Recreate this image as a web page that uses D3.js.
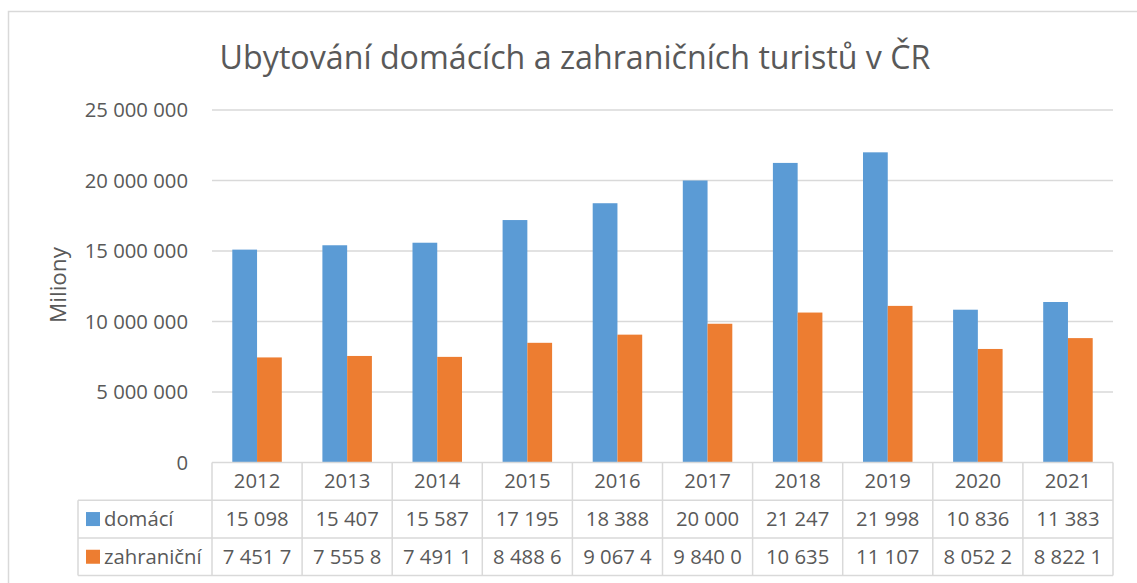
<!DOCTYPE html>
<meta charset="utf-8">
<title>Ubytování domácích a zahraničních turistů v ČR</title>
<script src="https://d3js.org/d3.v7.min.js"></script>
<body style="margin:0; background:#fff;">
<div id="chart"></div>
</body>
<script>
const years = ["2012", "2013", "2014", "2015", "2016", "2017", "2018", "2019", "2020", "2021"];
const domaci = [15098000, 15407000, 15587000, 17195000, 18388000, 20000000, 21247000, 21998000, 10836000, 11383000];
const zahranicni = [7451700, 7555800, 7491100, 8488600, 9067400, 9840000, 10635000, 11107000, 8052200, 8822100];
// table text as it appears (clipped) in the source chart
const domaciText = ["15 098", "15 407", "15 587", "17 195", "18 388", "20 000", "21 247", "21 998", "10 836", "11 383"];
const zahranicniText = ["7 451 7", "7 555 8", "7 491 1", "8 488 6", "9 067 4", "9 840 0", "10 635", "11 107", "8 052 2", "8 822 1"];
const seriesNames = ["domácí", "zahraniční"];
const yTicks = [0, 5000000, 10000000, 15000000, 20000000, 25000000];

const colors = ["#5B9BD5", "#ED7D31"];
const textColor = "#595959";
const lineColor = "#D9D9D9";
const font = "'Open Sans', sans-serif";
const fs = 20.3;

const width = 1137, height = 583;
const plot = {left: 212, right: 1113, top: 110, bottom: 462.5};
const rowH = 37.7;
const tableLeft = 78;

const svg = d3.select("#chart").append("svg")
    .attr("width", width).attr("height", height)
    .style("font-family", font);

// chart frame
svg.append("path")
    .attr("d", `M8.5,${height} V11.5 H${width}`)
    .attr("fill", "none").attr("stroke", lineColor).attr("stroke-width", 1.5);

svg.append("text")
    .attr("x", 575).attr("y", 69)
    .attr("text-anchor", "middle")
    .attr("font-size", 32.2)
    .attr("fill", textColor)
    .text("Ubytování domácích a zahraničních turistů v ČR");

const x = d3.scaleBand().domain(years).range([plot.left, plot.right]);
const x1 = d3.scaleBand().domain(seriesNames).range([0, x.bandwidth()]).paddingOuter(0.82).paddingInner(0);
const y = d3.scaleLinear().domain([0, 25000000]).range([plot.bottom, plot.top]);
const fmt = d => d3.format(",")(d).replace(/,/g, " ");

// grid lines
svg.append("g").selectAll("line").data(yTicks.slice(1)).join("line")
    .attr("x1", plot.left).attr("x2", plot.right)
    .attr("y1", d => y(d)).attr("y2", d => y(d))
    .attr("stroke", lineColor).attr("stroke-width", 1.5);

// y tick labels
svg.append("g").selectAll("text").data(yTicks).join("text")
    .attr("x", 188).attr("y", d => y(d)).attr("dy", "0.35em")
    .attr("text-anchor", "end")
    .attr("font-size", fs).attr("fill", textColor)
    .text(d => fmt(d));

svg.append("text")
    .attr("transform", `translate(66,${285}) rotate(-90)`)
    .attr("text-anchor", "middle")
    .attr("font-size", 22.5).attr("fill", textColor)
    .text("Miliony");

// bars
const series = [domaci, zahranicni];
const groups = svg.append("g").selectAll("g").data(years).join("g")
    .attr("transform", d => `translate(${x(d)},0)`);
groups.selectAll("rect")
    .data((d, i) => seriesNames.map((s, k) => ({s, v: series[k][i]})))
    .join("rect")
    .attr("x", d => x1(d.s)).attr("width", x1.bandwidth())
    .attr("y", d => y(d.v)).attr("height", d => y(0) - y(d.v))
    .attr("fill", (d, k) => colors[k]);

// data table
const table = svg.append("g").attr("stroke", lineColor).attr("stroke-width", 1.5).attr("fill", "none");
const tTop = plot.bottom, tBottom = plot.bottom + 3 * rowH;
[0, 1, 2, 3].forEach(r => {
  table.append("line")
      .attr("x1", r === 0 ? plot.left : tableLeft).attr("x2", plot.right)
      .attr("y1", tTop + r * rowH).attr("y2", tTop + r * rowH);
});
years.concat(["end"]).forEach((yr, i) => {
  const xx = plot.left + i * x.bandwidth();
  table.append("line").attr("x1", xx).attr("x2", xx).attr("y1", tTop).attr("y2", tBottom);
});
table.append("line").attr("x1", tableLeft).attr("x2", tableLeft).attr("y1", tTop + rowH).attr("y2", tBottom);

const cellText = svg.append("g").attr("font-size", fs).attr("fill", textColor).attr("text-anchor", "middle");
cellText.selectAll(".yr").data(years).join("text")
    .attr("x", d => x(d) + x.bandwidth() / 2).attr("y", tTop + rowH / 2).attr("dy", "0.35em")
    .text(d => d);
[domaciText, zahranicniText].forEach((arr, k) => {
  cellText.append("g").selectAll("text").data(arr).join("text")
      .attr("x", (d, i) => x(years[i]) + x.bandwidth() / 2)
      .attr("y", tTop + (k + 1.5) * rowH).attr("dy", "0.35em")
      .text(d => d);
});

// legend keys inside table
seriesNames.forEach((s, k) => {
  const cy = tTop + (k + 1.5) * rowH;
  svg.append("rect").attr("x", 86).attr("y", cy - 7).attr("width", 14).attr("height", 14).attr("fill", colors[k]);
  svg.append("text").attr("x", 104).attr("y", cy).attr("dy", "0.35em")
      .attr("font-size", fs).attr("fill", textColor).text(s);
});
</script>
